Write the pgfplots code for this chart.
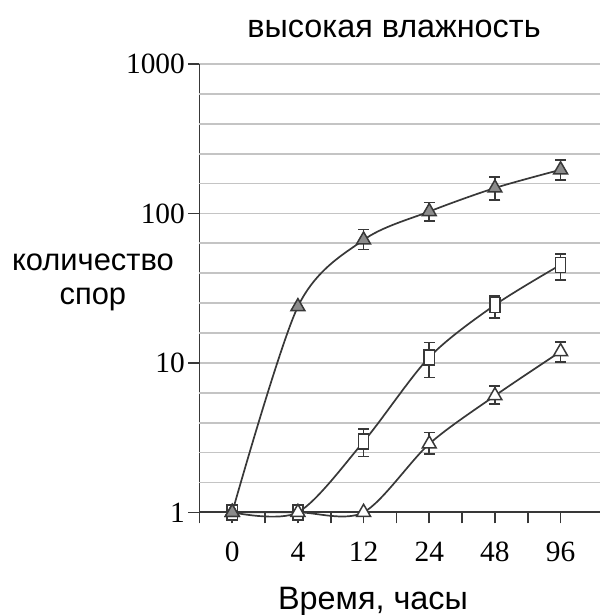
\documentclass[border=0pt]{standalone}
\usepackage{pgfplots}
\pgfplotsset{compat=1.18}
\usepackage{fontspec}
\setmainfont{Liberation Sans}
\newfontfamily\tnr{Liberation Serif}

\definecolor{ink}{HTML}{383838}
\definecolor{gridc}{HTML}{C4C4C4}
\definecolor{markfill}{HTML}{8C8C8C}

\begin{document}
\begin{tikzpicture}
% fixed page: 600 x 615 px, axis box lower left at (0,0)
\path[use as bounding box] (-199.4bp,-102.7bp) rectangle (400.6bp,512.3bp);
\begin{axis}[
  at={(0,0)}, anchor=south west,
  scale only axis, width=400.6bp, height=448.3bp,
  ymode=log, ymin=1, ymax=1000,
  xmin=-0.5, xmax=5.6,
  axis x line=bottom, axis y line=left,
  axis line style={-, line width=1.7bp, ink},
  tick align=outside, major tick length=11bp, minor tick length=11bp,
  every tick/.style={line width=1.6bp, ink},
  xtick={0,1,2,3,4,5}, xticklabels={0,4,12,24,48,96},
  minor xtick={-0.5,0.5,1.5,2.5,3.5,4.5},
  ytick={1,10,100,1000}, yticklabels={1,10,100,1000},
  yminorticks=false,
  ymajorgrids,
  major grid style={line width=1.8bp, gridc},
  extra y ticks={1.585,2.512,3.981,6.310,15.85,25.12,39.81,63.10,158.5,251.2,398.1,631.0},
  extra y tick labels={},
  extra y tick style={grid=major, major tick length=0pt},
  /pgf/number format/assume math mode=true,
  xticklabel style={font=\tnr\fontsize{29.5}{29.5}\selectfont, yshift=-15bp},
  yticklabel style={font=\tnr\fontsize{29.5}{29.5}\selectfont},
  clip=false,
]
% curves
\addplot[smooth, line width=1.7bp, ink] coordinates {(0,1) (1,1) (2,2.97) (3,10.9) (4,24.4) (5,45.3)};
\addplot[smooth, line width=1.7bp, ink] coordinates {(0,1) (1,1) (2,1) (3,2.87) (4,6.03) (5,11.9)};
\addplot[smooth, line width=1.7bp, ink] coordinates {(0,1) (1,23.8) (2,66.5) (3,103) (4,148) (5,196)};
% error bars
\pgfplotsset{errstyle/.style={only marks, mark=none, ink,
  error bars/.cd, y dir=both, y explicit,
  error bar style={line width=1.6bp, ink},
  error mark options={rotate=90, mark size=5.5bp, line width=1.6bp, ink}}}
\addplot[errstyle] coordinates {
  (2,2.97) += (0,0.63) -= (0,0.61)
  (3,10.9) += (0,2.8) -= (0,2.9)
  (4,24.4) += (0,3.6) -= (0,4.5)
  (5,45.3) += (0,8.3) -= (0,9.4)};
\addplot[errstyle] coordinates {
  (3,2.87) += (0,0.54) -= (0,0.41)
  (4,6.03) += (0,1.0) -= (0,0.72)
  (5,11.9) += (0,1.9) -= (0,1.8)};
\addplot[errstyle] coordinates {
  (2,66.5) += (0,11.5) -= (0,9)
  (3,103) += (0,15) -= (0,14)
  (4,148) += (0,28) -= (0,25)
  (5,196) += (0,32) -= (0,29)};
% marks
\addplot[only marks, mark=square*, mark size=7.5bp,
  mark options={xscale=0.68, fill=white, draw=ink, line width=1.5bp}]
  coordinates {(0,1) (1,1) (2,2.97) (3,10.9) (4,24.4) (5,45.3)};
\addplot[only marks, mark=triangle*, mark size=8bp,
  mark options={fill=white, draw=ink, line width=1.5bp}]
  coordinates {(0,1) (1,1) (2,1) (3,2.87) (4,6.03) (5,11.9)};
\addplot[only marks, mark=triangle*, mark size=8bp,
  mark options={fill=markfill, draw=ink, line width=1.5bp}]
  coordinates {(0,1) (1,23.8) (2,66.5) (3,103) (4,148) (5,196)};
\end{axis}
\node[anchor=base, font=\fontsize{32.5}{32.5}\selectfont] at (194.6bp,475bp) {высокая влажность};
\node[anchor=base, align=center, inner sep=0pt, font=\fontsize{31}{34.5}\selectfont] at (-106.5bp,207.5bp) {количество\\спор};
\node[anchor=base, font=\fontsize{32.5}{32.5}\selectfont] at (173.6bp,-96.7bp) {Время, часы};
\end{tikzpicture}
\end{document}
